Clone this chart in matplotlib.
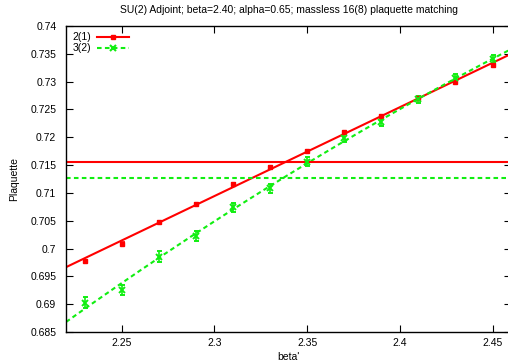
import numpy as np
import matplotlib
matplotlib.use('Agg')
import matplotlib.pyplot as plt
from matplotlib.lines import Line2D

plt.rcParams['font.family'] = ['Liberation Sans', 'DejaVu Sans']
plt.rcParams['font.size'] = 7.5

# beta' values
beta = [2.23, 2.25, 2.27, 2.29, 2.31, 2.33, 2.35, 2.37, 2.39, 2.41, 2.43, 2.45]

# 2(1) blocking level
plaq_21 = [0.6978, 0.7009, 0.7048, 0.7080, 0.7116, 0.7146, 0.7175, 0.7209, 0.7238, 0.7270, 0.7299, 0.7330]
err_21 = [0.0002] * 12
target_21 = 0.7156

# 3(2) blocking level
plaq_32 = [0.6903, 0.6926, 0.6985, 0.7023, 0.7074, 0.7108, 0.7156, 0.7198, 0.7228, 0.7268, 0.7307, 0.7340]
err_32 = [0.0010, 0.0009, 0.0010, 0.0009, 0.0008, 0.0008, 0.0008, 0.0007, 0.0008, 0.0007, 0.0007, 0.0007]
target_32 = 0.7127

red = '#ff0000'
green = '#11ee11'
dash = (0, (2.2, 1.6))

fig = plt.figure(figsize=(5.08, 3.63), dpi=100)
ax = fig.add_axes([0.130, 0.0854, 0.876, 0.843])

xs = np.linspace(2.22, 2.46, 200)

# fits
p1 = np.polyfit(beta, plaq_21, 1)
p2 = np.polyfit(beta, plaq_32, 2, w=1 / np.array(err_32))
ax.plot(xs, np.polyval(p1, xs), color=red, lw=1.5)
ax.plot(xs, np.polyval(p2, xs), color=green, lw=1.5, ls=dash)

# target plaquettes
ax.axhline(target_21, color=red, lw=1.5)
ax.axhline(target_32, color=green, lw=1.5, ls=dash)

# data
ax.errorbar(beta, plaq_21, yerr=err_21, fmt='s', color=red, ms=3.3,
            capsize=1.8, elinewidth=1.2, capthick=1.2)
ax.errorbar(beta, plaq_32, yerr=err_32, fmt='x', color=green, ms=4, mew=1.4,
            capsize=1.8, elinewidth=1.2, capthick=1.2)

ax.set_xlim(2.22, 2.46)
ax.set_ylim(0.685, 0.74)
ax.set_xticks([2.25, 2.3, 2.35, 2.4, 2.45])
ax.set_xticklabels(['2.25', '2.3', '2.35', '2.4', '2.45'])
yt = np.arange(0.685, 0.7401, 0.005)
ax.set_yticks(yt)
ax.set_yticklabels(['%g' % round(v, 3) for v in yt])
ax.tick_params(direction='in', length=5, width=0.8, top=True, right=True)
ax.tick_params(axis='y', pad=7)
ax.tick_params(axis='x', pad=4)
for s in ax.spines.values():
    s.set_linewidth(1.0)

ax.set_xlabel("beta'", labelpad=3)
ax.set_ylabel('Plaquette', labelpad=8)
fig.text(0.568, 0.972, 'SU(2) Adjoint; beta=2.40; alpha=0.65; massless 16(8) plaquette matching',
         ha='center', va='center', fontsize=7.5)

handles = [Line2D([], [], color=red, lw=1.5, marker='s', ms=3),
           Line2D([], [], color=green, lw=1.5, ls=dash, marker='x', ms=4, mew=1.5)]
ax.legend(handles, ['2(1)', '3(2)'], loc='upper left', frameon=False,
          markerfirst=False, handlelength=3.0, handletextpad=0.6,
          borderaxespad=0.2, labelspacing=0.1, bbox_to_anchor=(0.0, 1.0))

fig.savefig('out.png', dpi=100)
